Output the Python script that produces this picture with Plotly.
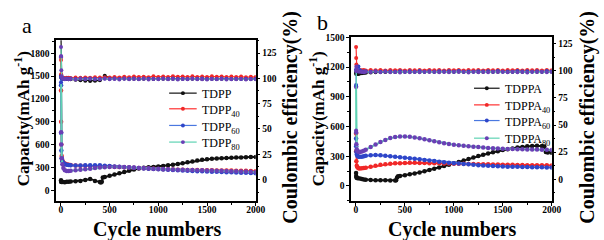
import plotly.graph_objects as go

# ---------------- data ----------------
cycles = [1, 2, 4, 8, 15, 25, 40, 60, 80, 100,
          150, 200, 250, 300, 350, 400, 450, 500, 550, 600,
          650, 700, 750, 800, 850, 900, 950, 1000,
          1050, 1100, 1150, 1200, 1250, 1300, 1350, 1400, 1450, 1500,
          1550, 1600, 1650, 1700, 1750, 1800, 1850, 1900, 1950, 2000]

# panel a – capacity (mAh g-1)
cyc_tdpp = [1, 2, 5, 10, 20, 40, 60, 80, 100,
            150, 200, 250, 300, 350, 400, 410, 420, 430,
            450, 500, 550, 600, 650, 700, 750, 800, 850, 900, 950, 1000,
            1050, 1100, 1150, 1200, 1250, 1300, 1350, 1400, 1450, 1500,
            1550, 1600, 1650, 1700, 1750, 1800, 1850, 1900, 1950, 2000]
cap_tdpp = [130, 112, 106, 110, 108, 105, 110, 112, 115,
            118, 122, 135, 148, 122, 106, 102, 112, 165,
            172, 190, 205, 222, 240, 256, 271, 285, 295, 300, 305, 310,
            318, 326, 335, 345, 355, 366, 378, 390, 400, 408,
            413, 417, 421, 424, 427, 429, 431, 433, 435, 437]
cap_tdpp40 = [1310, 900, 600, 450, 390, 365, 350, 340, 335, 330,
              325, 322, 320, 318, 316, 315, 313, 310, 307, 303,
              300, 297, 294, 290, 287, 284, 281, 278,
              276, 274, 272, 270, 268, 266, 265, 264, 263, 262,
              261, 260, 259, 258, 257, 256, 255, 254, 252, 250]
cap_tdpp60 = [1380, 750, 520, 420, 380, 360, 345, 335, 330, 327,
              325, 325, 326, 327, 328, 327, 322, 317, 312, 307,
              302, 298, 294, 290, 286, 282, 278, 274,
              271, 268, 265, 262, 259, 256, 253, 250, 248, 245,
              243, 241, 239, 237, 235, 233, 230, 228, 225, 222]
cap_tdpp80 = [1750, 760, 600, 420, 340, 290, 262, 252, 252, 255,
              262, 268, 275, 282, 290, 297, 302, 305, 306, 305,
              303, 300, 297, 293, 290, 287, 283, 280,
              277, 275, 272, 270, 268, 266, 264, 262, 261, 260,
              258, 256, 254, 252, 250, 248, 246, 244, 242, 240]

# panel a – coulombic efficiency (%)
ce_tdpp = [140, 103, 101, 100, 99.8, 99.6, 99.5, 99.4, 99.2, 99.0,
           98.6, 98.0, 97.6, 97.3, 97.5, 98.0, 102.5, 100.4, 99.8, 99.6,
           99.7, 99.5, 99.6, 99.4, 99.5, 99.6, 99.4, 99.5,
           99.6, 99.4, 99.5, 99.6, 99.5, 99.4, 99.6, 99.5, 99.4, 99.5,
           99.6, 99.4, 99.5, 99.5, 99.6, 99.4, 99.5, 99.4, 99.6, 99.5]
ce_tdpp40 = [118, 104, 101.5, 100.8, 100.5, 100.3, 100.4, 100.6, 100.5, 100.4,
             100.7, 100.5, 100.9, 100.6, 101.0, 100.7, 101.1, 100.8, 101.3, 100.9,
             101.5, 101.0, 101.7, 101.2, 101.6, 101.1, 102.0, 101.4,
             101.8, 101.2, 102.1, 101.5, 101.9, 101.3, 102.0, 101.4, 101.8, 101.2,
             102.0, 101.5, 101.9, 101.3, 101.8, 101.2, 101.7, 101.0, 101.5, 101.2]
ce_tdpp60 = [96, 102, 100.6, 100.2, 99.9, 99.7, 99.6, 99.8, 99.5, 99.7,
             99.4, 99.8, 99.5, 99.9, 99.6, 99.4, 99.8, 99.5, 99.7, 99.3,
             99.8, 99.5, 99.7, 99.4, 99.8, 99.5, 99.6, 99.3,
             99.7, 99.5, 99.8, 99.4, 99.6, 99.3, 99.7, 99.5, 99.8, 99.4,
             99.6, 99.3, 99.7, 99.5, 99.4, 99.6, 99.3, 99.5, 99.4, 99.6]
ce_tdpp80 = [131, 122, 108, 102, 100.3, 99.6, 99.2, 99.5, 99.0, 99.4,
             98.9, 99.5, 99.1, 99.6, 99.2, 99.0, 99.5, 99.1, 99.4, 98.9,
             99.5, 99.0, 99.4, 99.1, 99.6, 98.9, 99.3, 99.0,
             99.5, 99.1, 99.4, 98.8, 99.3, 99.0, 99.5, 99.1, 99.2, 98.9,
             99.4, 99.0, 99.3, 98.8, 99.2, 99.0, 99.4, 98.9, 99.2, 99.0]

# panel b – capacity (mAh g-1)
cyc_tdppa = [1, 2, 5, 10, 20, 40, 60, 80, 100,
             150, 200, 250, 300, 350, 400, 410, 420, 430,
             450, 500, 550, 600, 650, 700, 750, 800, 850, 900,
             950, 1000, 1050, 1100, 1150, 1200, 1250, 1300, 1350, 1400,
             1450, 1500, 1550, 1600, 1650, 1700, 1750, 1800, 1850,
             1900, 1925, 1940, 1960, 2000]
cap_tdppa = [130, 100, 85, 80, 78, 75, 70, 66, 63,
             60, 58, 57, 57, 56, 56, 57, 85, 98,
             100, 108, 117, 127, 137, 148, 160, 173, 187, 201,
             215, 228, 243, 258, 273, 288, 302, 315, 328, 340,
             351, 362, 371, 379, 387, 394, 400, 404, 405,
             403, 398, 342, 338, 335]
cap_tdppa40 = [530, 350, 250, 205, 188, 180, 177, 178, 181, 185,
               195, 205, 213, 220, 225, 228, 230, 232, 233, 233,
               232, 231, 230, 229, 228, 227, 226, 225,
               224, 223, 222, 221, 220, 219, 218, 217, 216, 215,
               214, 213, 212, 211, 210, 210, 209, 208, 208, 207]
cap_tdppa60 = [480, 400, 345, 318, 303, 296, 294, 296, 300, 304,
               310, 312, 310, 306, 300, 295, 290, 285, 280, 275,
               269, 263, 257, 251, 245, 240, 235, 230,
               226, 222, 218, 214, 210, 207, 204, 201, 199, 197,
               195, 194, 193, 192, 191, 190, 189, 188, 187, 186]
cap_tdppa80 = [1000, 540, 420, 370, 352, 345, 343, 348, 356, 365,
               392, 418, 443, 465, 483, 494, 500, 500, 497, 490,
               481, 471, 461, 451, 441, 432, 424, 417,
               411, 405, 400, 396, 392, 388, 384, 380, 377, 375,
               373, 372, 371, 370, 369, 368, 367, 366, 365, 364]

# panel b – coulombic efficiency (%)
ce_tdppa = [99, 97.2, 97.5, 97.8, 97.4, 97.2, 97.5, 97.7, 98.0, 98.2,
            98.5, 98.8, 99.0, 98.9, 99.1, 99.0, 99.2, 99.1, 99.3, 99.2,
            99.3, 99.2, 99.4, 99.3, 99.2, 99.4, 99.3, 99.2,
            99.4, 99.3, 99.2, 99.4, 99.3, 99.2, 99.4, 99.3, 99.2, 99.4,
            99.3, 99.2, 99.4, 99.3, 99.2, 99.4, 99.3, 99.2, 99.4, 99.3]
ce_tdppa40 = [122, 112, 106, 103, 101.5, 101.0, 100.8, 100.5, 100.7, 100.4,
              100.8, 100.5, 100.9, 100.4, 100.7, 100.5, 100.9, 100.4, 100.8, 100.5,
              100.7, 100.4, 100.9, 100.5, 100.8, 100.4, 100.7, 100.5,
              100.9, 100.4, 100.8, 100.5, 100.7, 100.4, 100.9, 100.5, 100.8, 100.4,
              100.7, 100.5, 100.9, 100.4, 100.8, 100.5, 100.7, 100.4, 100.8, 100.5]
ce_tdppa60 = [87, 101.5, 100.2, 99.8, 99.6, 104, 100.5, 99.5, 99.4, 99.6,
              99.3, 99.7, 99.2, 99.6, 99.4, 99.1, 99.7, 99.3, 99.6, 99.2,
              99.8, 99.3, 99.6, 99.1, 99.7, 99.4, 99.6, 99.2,
              99.8, 99.3, 99.5, 99.1, 99.7, 99.4, 99.6, 99.2, 99.8, 99.3,
              99.5, 99.2, 99.8, 99.4, 99.6, 99.1, 99.7, 99.3, 99.8, 99.5]
ce_tdppa80 = [45, 100, 104, 101, 100, 99.5, 99.2, 99.0, 98.8, 99.1,
              98.9, 99.3, 98.7, 99.2, 98.8, 99.0, 98.6, 99.1, 98.8, 99.2,
              98.7, 99.1, 98.9, 99.3, 98.8, 99.0, 98.7, 99.2,
              98.9, 99.1, 98.6, 99.2, 98.8, 99.0, 98.7, 99.3, 98.9, 99.1,
              98.7, 99.2, 98.8, 99.0, 98.6, 99.1, 98.9, 99.2, 98.8, 99.0]

names_a = ["TDPP", "TDPP<sub>40</sub>", "TDPP<sub>60</sub>", "TDPP<sub>80</sub>"]
names_b = ["TDPPA", "TDPPA<sub>40</sub>", "TDPPA<sub>60</sub>", "TDPPA<sub>80</sub>"]

x_ticks = [0, 500, 1000, 1500, 2000]
cap_ticks_a = [0, 300, 600, 900, 1200, 1500, 1800]
cap_ticks_b = [0, 300, 600, 900, 1200, 1500]
ce_ticks = [0, 25, 50, 75, 100, 125]

# ---------------- styling ----------------
line_cols = ["#111111", "#ff3030", "#4a78e0", "#5fd3b3"]
mark_cols = ["#111111", "#f02828", "#2f45c8", "#6a3fb5"]
SERIF = "Liberation Serif"
W, H = 604, 240

fig = go.Figure()


def add(x, y, i, name, xa, ya, lw, ms):
    fig.add_trace(go.Scatter(
        x=x, y=y, mode="lines+markers", name=name,
        line=dict(color=line_cols[i], width=lw),
        marker=dict(color=mark_cols[i], size=ms, line=dict(width=0)),
        xaxis=xa, yaxis=ya, showlegend=False))


caps_a = [(cyc_tdpp, cap_tdpp), (cycles, cap_tdpp40), (cycles, cap_tdpp60), (cycles, cap_tdpp80)]
ces_a = [ce_tdpp, ce_tdpp40, ce_tdpp60, ce_tdpp80]
caps_b = [(cyc_tdppa, cap_tdppa), (cycles, cap_tdppa40), (cycles, cap_tdppa60), (cycles, cap_tdppa80)]
ces_b = [ce_tdppa, ce_tdppa40, ce_tdppa60, ce_tdppa80]

for i in range(4):
    add(caps_a[i][0], caps_a[i][1], i, names_a[i], "x", "y", 2, 4.5)
for i in range(4):
    add(cycles, ces_a[i], i, names_a[i], "x", "y2", 1.2, 4)
for i in range(4):
    add(caps_b[i][0], caps_b[i][1], i, names_b[i], "x2", "y3", 2, 4.5)
for i in range(4):
    add(cycles, ces_b[i], i, names_b[i], "x2", "y4", 1.2, 4)

tickfont = dict(family=SERIF, size=9.5, color="black", weight="bold")
base = dict(showline=True, linecolor="black", linewidth=1.5, ticks="outside",
            ticklen=3, tickwidth=1.2, tickcolor="black", showgrid=False,
            zeroline=False, tickfont=tickfont)


def minor(d):
    return dict(ticks="outside", ticklen=2, tickcolor="black", tickwidth=1, dtick=d, tick0=0)


fig.update_layout(
    width=W, height=H, margin=dict(l=0, r=0, t=0, b=0),
    paper_bgcolor="white", plot_bgcolor="white",
    xaxis=dict(domain=[57 / W, 260 / W], range=[-50, 2000], anchor="y", mirror=True,
               tickvals=x_ticks, minor=minor(250), ticklabelstandoff=-4, **base),
    yaxis=dict(domain=[40 / H, 204 / H], range=[-140, 1970], anchor="x",
               tickvals=cap_ticks_a, minor=minor(150), **base),
    yaxis2=dict(overlaying="y", side="right", anchor="x", range=[-21, 137.6],
                tickvals=ce_ticks, minor=minor(12.5), **base),
    xaxis2=dict(domain=[357 / W, 561 / W], range=[-50, 2000], anchor="y3", mirror=True,
                tickvals=x_ticks, minor=minor(250), ticklabelstandoff=-4, **base),
    yaxis3=dict(domain=[40 / H, 207 / H], range=[-150, 1500], anchor="x2",
                tickvals=cap_ticks_b, minor=minor(150), **base),
    yaxis4=dict(overlaying="y3", side="right", anchor="x2", range=[-20, 131],
                tickvals=ce_ticks, minor=minor(12.5), **base),
    showlegend=False,
)

# ---------------- hand-placed legends (pixel positions) ----------------
legend_a = dict(x_line=(172, 200), x_text=203, ys=[90, 106, 123, 140], names=names_a)
legend_b = dict(x_line=(482, 508), x_text=511, ys=[85, 102, 118, 136], names=names_b)

shapes = []
ann = []
for lg in (legend_a, legend_b):
    x0, x1 = lg["x_line"]
    xm = (x0 + x1) / 2
    for i, (yy, nm) in enumerate(zip(lg["ys"], lg["names"])):
        shapes.append(dict(type="line", xref="paper", yref="paper",
                           x0=x0 / W, x1=x1 / W, y0=1 - yy / H, y1=1 - yy / H,
                           line=dict(color=line_cols[i], width=1.2)))
        shapes.append(dict(type="circle", xref="paper", yref="paper",
                           x0=(xm - 2) / W, x1=(xm + 2) / W,
                           y0=1 - (yy + 2) / H, y1=1 - (yy - 2) / H,
                           fillcolor=mark_cols[i], line=dict(width=0)))
        ann.append(dict(text=nm, x=lg["x_text"] / W, y=1 - (yy - 8) / H,
                        xref="paper", yref="paper", showarrow=False,
                        xanchor="left", yanchor="top",
                        font=dict(family=SERIF, size=12, color="black")))

title_font = dict(family=SERIF, size=17, color="black", weight="bold")
for off in (0, 300):
    ann.append(dict(text="Capacity(mAh g<sup>-1</sup>)", x=(22 + off) / W, y=1 - 116 / H,
                    xref="paper", yref="paper", textangle=-90, showarrow=False,
                    xanchor="center", yanchor="middle", font=title_font))
    ann.append(dict(text="Cycle numbers", x=(160 + off) / W, y=1 - 229 / H,
                    xref="paper", yref="paper", showarrow=False,
                    xanchor="center", yanchor="middle",
                    font=dict(family=SERIF, size=20, color="black", weight="bold")))
for xc in (295, 597):
    ann.append(dict(text="Coulombic efficiency(%)", x=xc / W, y=1 - 115 / H,
                    xref="paper", yref="paper", textangle=-90, showarrow=False,
                    xanchor="center", yanchor="middle",
                    font=dict(family=SERIF, size=20, color="black", weight="bold")))
ann.append(dict(text="a", x=27 / W, y=1 - 21 / H, xref="paper", yref="paper",
                showarrow=False, xanchor="center", yanchor="middle",
                font=dict(family=SERIF, size=22, color="black")))
ann.append(dict(text="b", x=328 / W, y=1 - 18 / H, xref="paper", yref="paper",
                showarrow=False, xanchor="center", yanchor="middle",
                font=dict(family=SERIF, size=22, color="black")))
fig.update_layout(annotations=ann, shapes=shapes)

fig.write_html("out.html", config={"displayModeBar": False},
               post_script="document.body.style.margin='0';document.body.style.overflow='hidden';")
